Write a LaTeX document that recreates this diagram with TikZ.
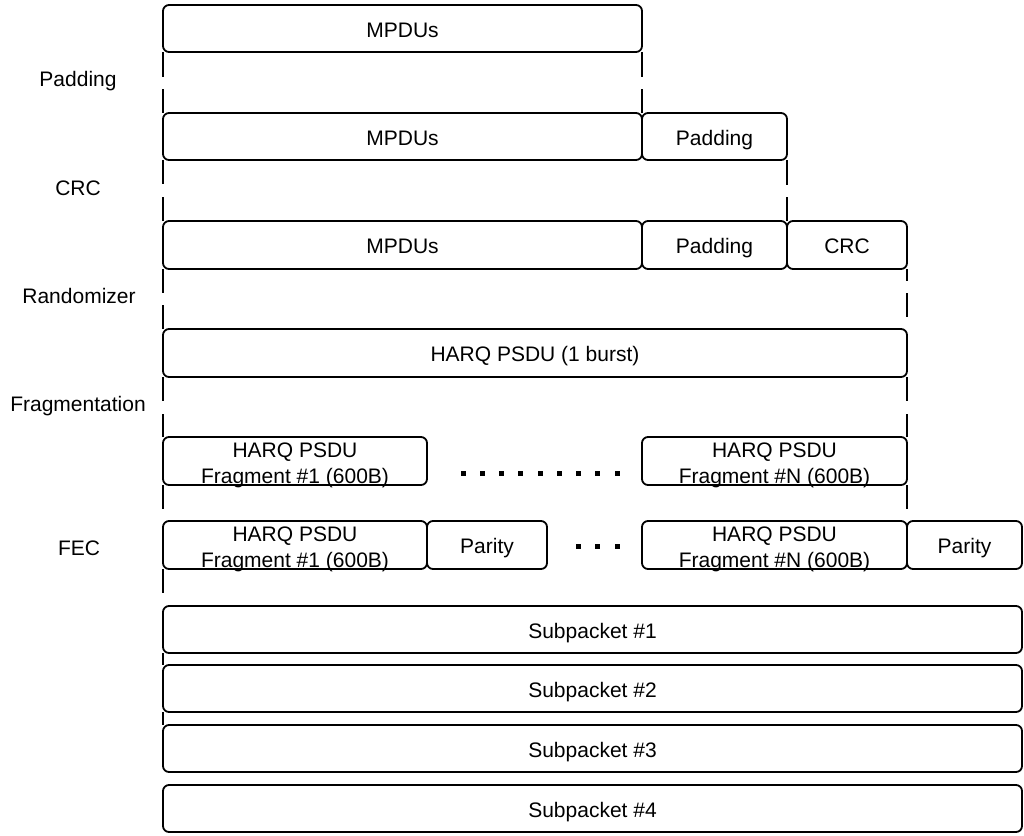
\documentclass[tikz,border=0pt]{standalone}
\usepackage{fontspec}
\setmainfont{Liberation Sans}
\usetikzlibrary{calc}
\newcommand\bx[6]{\node[blk,minimum width={(#4-#2)*1pt},minimum height={(#5-#3)*1pt}] (#1) at (#2,#3) {#6};}
\begin{document}
\begin{tikzpicture}[x=1pt,y=-1pt,line width=1.8pt,
  blk/.style={draw,rounded corners=6pt,anchor=north west,inner sep=0pt,outer sep=0pt,text height=17pt,text depth=0pt,font=\fontsize{21}{26}\selectfont},
  txt/.style={inner sep=0pt,align=center,font=\fontsize{21}{26}\selectfont},
  lbl/.style={inner sep=0pt,text height=17pt,text depth=0pt,font=\fontsize{21}{26}\selectfont}]
\useasboundingbox (0,0) rectangle (1024,835);
% row 1
\bx{m1}{163}{5}{642}{52}{MPDUs}
% row 2
\bx{m2}{163}{113}{642}{160}{MPDUs}
\bx{p2}{642}{113}{787}{160}{Padding}
% row 3
\bx{m3}{163}{221}{642}{269}{MPDUs}
\bx{p3}{642}{221}{787}{269}{Padding}
\bx{c3}{787}{221}{907}{269}{CRC}
% row 4
\bx{h4}{163}{329}{907}{377}{HARQ PSDU (1 burst)}
% row 5
\bx{f51}{163}{437}{427}{485}{}
\bx{f5n}{642}{437}{907}{485}{}
\node[txt] (f51t) at ([yshift=-4pt]f51.center) {HARQ PSDU\\Fragment \#1 (600B)};
\node[txt] (f5nt) at ([yshift=-4pt]f5n.center) {HARQ PSDU\\Fragment \#N (600B)};
% row 6
\bx{f61}{163}{521}{427}{569}{}
\bx{q61}{427}{521}{547}{569}{Parity}
\bx{f6n}{642}{521}{907}{569}{}
\bx{q6n}{907}{521}{1022}{569}{Parity}
\node[txt] (f61t) at ([yshift=-4pt]f61.center) {HARQ PSDU\\Fragment \#1 (600B)};
\node[txt] (f6nt) at ([yshift=-4pt]f6n.center) {HARQ PSDU\\Fragment \#N (600B)};
% subpackets
\bx{s1}{163}{606}{1022}{653}{Subpacket \#1}
\bx{s2}{163}{665}{1022}{712}{Subpacket \#2}
\bx{s3}{163}{725}{1022}{772}{Subpacket \#3}
\bx{s4}{163}{785}{1022}{832}{Subpacket \#4}
% dots
\foreach \i in {0,...,8} \fill (463+\i*19.25-2.5,473-2.5) rectangle ++(5,5);
\foreach \i in {0,...,2} \fill (578+\i*19.5-2.5,546-2.5) rectangle ++(5,5);
% step labels
\node[lbl] (lpad) at (78,78) {Padding};
\node[lbl] (lcrc) at (78,187) {CRC};
\node[lbl] (lrnd) at (79,295) {Randomizer};
\node[lbl] (lfrg) at (78,403) {Fragmentation};
\node[lbl] (lfec) at (79,547) {FEC};
% connectors
\draw (m1.south west) -- ++(0,25);
\draw (m2.north west) -- ++(0,-24);
\draw (m1.south east) -- ++(0,25);
\draw (m2.north east) -- ++(0,-24);
\draw (m2.south west) -- ++(0,24);
\draw (m3.north west) -- ++(0,-24);
\draw (p2.south east) -- ++(0,25);
\draw (c3.north west) -- ++(0,-24);
\draw (m3.south west) -- ++(0,24);
\draw (h4.north west) -- ++(0,-24);
\draw (c3.south east) -- ++(0,12);
\draw ([yshift=-24pt]c3.south east) -- ++(0,24);
\draw (h4.south west) -- ++(0,24);
\draw (f51.north west) -- ++(0,-23);
\draw (h4.south east) -- ++(0,24);
\draw (f5n.north east) -- ++(0,-23);
\draw (f51.south west) -- ++(0,24);
\draw (f5n.south east) -- ++(0,24);
\draw (f61.south west) -- ++(0,24);
\draw (s1.south west) -- (s2.north west);
\draw (s2.south west) -- (s3.north west);
\end{tikzpicture}
\end{document}
